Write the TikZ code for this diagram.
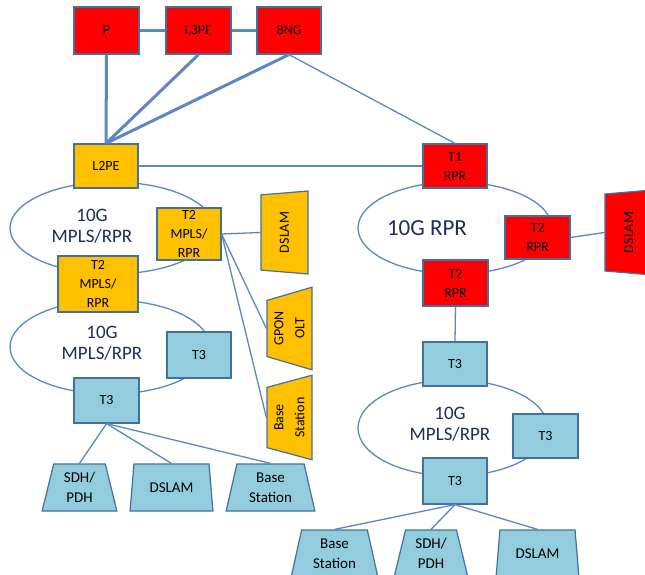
\documentclass[tikz,border=0pt]{standalone}
\usepackage{fontspec}
\setmainfont{Carlito}
\usetikzlibrary{shapes.geometric}
\definecolor{redf}{HTML}{FF0000}
\definecolor{yelf}{HTML}{FFC000}
\definecolor{bluf}{HTML}{93CDDD}
\definecolor{bord}{HTML}{41719C}
\definecolor{wire}{HTML}{5B87C2}
\definecolor{ringtxt}{HTML}{1F2D55}
\begin{document}
\begin{tikzpicture}[x=1pt,y=-1pt,
  box/.style={draw=bord, line width=1.2pt, inner sep=0pt, align=center,
    font=\fontsize{14}{19}\selectfont, text=black},
  redbox/.style={box, fill=redf},
  yelbox/.style={box, fill=yelf},
  blubox/.style={box, fill=bluf},
  trap/.style={trapezium, trapezium stretches=true,
    trapezium left angle=#1, trapezium right angle=#1,
    draw=bord, line width=1.2pt, inner sep=0pt, align=center,
    font=\fontsize{15}{20}\selectfont, text=black},
  vtrap/.style={trap=#1, rotate=90, font=\fontsize{14}{21}\selectfont},
  ring/.style={draw=wire, line width=1.3pt},
  ringlabel/.style={align=center, text=ringtxt, font=\fontsize{19}{21.5}\selectfont},
  wirethin/.style={draw=wire, line width=1.3pt},
  wirethick/.style={draw=wire, line width=3pt},
]
\useasboundingbox (0,0) rectangle (645,575);

% rings
\draw[ring] (112,228) ellipse [x radius=102, y radius=46];
\draw[ring] (110,347) ellipse [x radius=100, y radius=47];
\draw[ring] (455,228) ellipse [x radius=97, y radius=46];
\draw[ring] (453,428) ellipse [x radius=95, y radius=48];

\node[ringlabel] (r1) at (92,226) {10G\\MPLS/RPR};
\node[ringlabel] (r2) at (102,343) {10G\\MPLS/RPR};
\node[ringlabel, font=\fontsize{23}{26}\selectfont] (r3) at (427,228) {10G RPR};
\node[ringlabel] (r4) at (450,424) {10G\\MPLS/RPR};

% top boxes
\node[redbox, minimum width=65, minimum height=47] (P) at (106.5,30.5) {P};
\node[redbox, minimum width=65, minimum height=47] (L3PE) at (198.5,30.5) {L3PE};
\node[redbox, minimum width=64, minimum height=47] (BNG) at (289,30.5) {BNG};

% left side
\node[yelbox, minimum width=64, minimum height=44] (L2PE) at (106,166) {L2PE};
\node[yelbox, minimum width=64, minimum height=52] (T2a) at (189,234) {T2\\MPLS/\\RPR};
\node[yelbox, minimum width=80, minimum height=56] (T2b) at (98,284) {T2\\MPLS/\\RPR};
\node[blubox, minimum width=64, minimum height=46] (T3a) at (199,355) {T3};
\node[blubox, minimum width=65, minimum height=45] (T3b) at (106.5,400.5) {T3};

\node[vtrap=77, fill=yelf, minimum width=83, minimum height=47] (dslY) at (284.5,232.5) {DSLAM};
\node[vtrap=75, fill=yelf, minimum width=83, minimum height=45] (gpon) at (289.5,328.5) {GPON\\OLT};
\node[vtrap=75, fill=yelf, minimum width=85, minimum height=45] (bsY) at (289.5,417.5) {Base\\Station};

\node[trap=77, fill=bluf, minimum width=75, minimum height=47] (sdhL) at (79.5,487.5) {SDH/\\PDH};
\node[trap=77, fill=bluf, minimum width=83, minimum height=47] (dslL) at (171.5,487.5) {DSLAM};
\node[trap=77, fill=bluf, minimum width=89, minimum height=47] (bsL) at (270.5,487.5) {Base\\Station};

% right side
\node[redbox, minimum width=64, minimum height=44] (T1) at (455,166) {T1\\RPR};
\node[redbox, minimum width=65, minimum height=43] (T2r) at (537.5,237.5) {T2\\RPR};
\node[redbox, minimum width=65, minimum height=46] (T2d) at (455.5,283) {T2\\RPR};
\node[vtrap=77, fill=redf, minimum width=85, minimum height=47] (dslR) at (628.5,232.5) {DSLAM};

\node[blubox, minimum width=64, minimum height=44] (T3c) at (455,364) {T3};
\node[blubox, minimum width=65, minimum height=44] (T3d) at (545.5,436) {T3};
\node[blubox, minimum width=64, minimum height=46] (T3e) at (455,481) {T3};

\node[trap=77, fill=bluf, minimum width=87, minimum height=47] (bsR) at (334.5,553.5) {Base\\Station};
\node[trap=77, fill=bluf, minimum width=74, minimum height=47] (sdhR) at (431,553.5) {SDH/\\PDH};
\node[trap=77, fill=bluf, minimum width=83, minimum height=47] (dslR2) at (537.5,553.5) {DSLAM};

% connectors
\draw[wirethick] (P) -- (L3PE);
\draw[wirethick] (L3PE) -- (BNG);
\draw[wirethick] (P.south) -- (L2PE.north);
\draw[wirethick] (L3PE.south) -- (L2PE.north);
\draw[wirethick] (BNG.south) -- (L2PE.north);
\draw[wirethin] (BNG.south) -- (T1.north);
\draw[wirethin] (L2PE.east) -- (T1.west);

\draw[wirethin] (T2a.east) -- (dslY.north);
\draw[wirethin] (T2a.east) -- (gpon.north);
\draw[wirethin] (T2a.east) -- (bsY.north);

\draw[wirethin] (T3b.south) -- (sdhL.north);
\draw[wirethin] (T3b.south) -- (dslL.north);
\draw[wirethin] (T3b.south) -- (bsL.north);

\draw[wirethin] (T2r.east) -- (dslR.north);
\draw[wirethin] (T2d.south) -- (T3c.north);

\draw[wirethin] (T3e.south) -- (bsR.north);
\draw[wirethin] (T3e.south) -- (sdhR.north);
\draw[wirethin] (T3e.south) -- (dslR2.north);
\end{tikzpicture}
\end{document}
